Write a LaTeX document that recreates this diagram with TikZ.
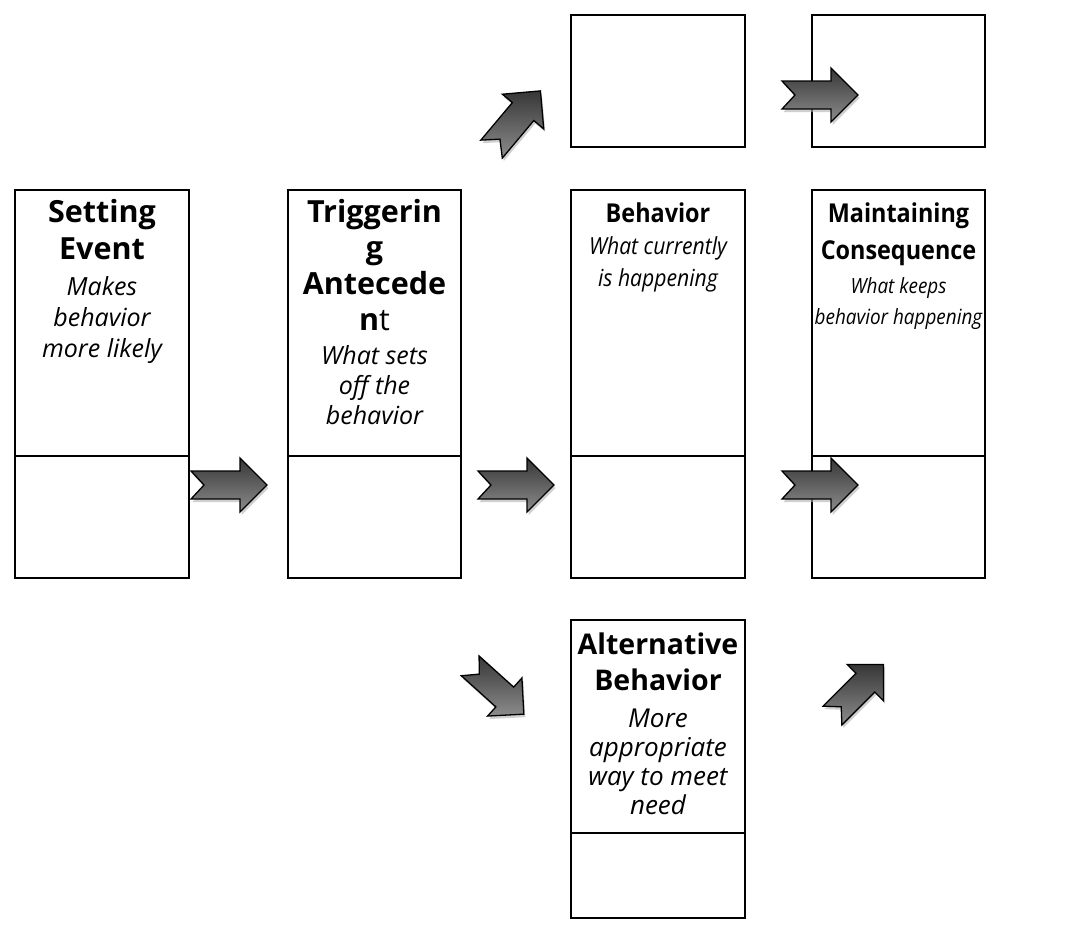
\documentclass[tikz,border=0pt]{standalone}
\usepackage{fontspec}
\setmainfont{Open Sans}
\newfontfamily\narrowfont{Open Sans}[FakeStretch=0.9]
\usetikzlibrary{shadows}
\tikzset{
  box/.style={draw=black, line width=2pt, inner sep=0, fill=white},
  txt/.style={align=center, anchor=north, inner sep=0},
  arrowfill/.style={draw=black, line width=1.3pt, line join=miter,
    top color={rgb,255:red,55;green,55;blue,55}, bottom color={rgb,255:red,140;green,140;blue,140},
    drop shadow={shadow xshift=1.5pt, shadow yshift=-3pt, fill=gray!60, opacity=0.6}},
  fatarrow/.pic={\path[arrowfill] (-38,14) -- (11,14) -- (11,27) -- (38,0) -- (11,-27) -- (11,-14) -- (-38,-14) -- (-25,0) -- cycle;}
}
\newcommand{\fl}[1]{\rule{0pt}{#1pt}}
\begin{document}
\begin{tikzpicture}[x=1pt,y=-1pt]
\useasboundingbox[fill=white] (0,0) rectangle (1086,930);
% main boxes
\node[box, minimum width=174pt, minimum height=388pt] (se) at (102,384) {};
\node[box, minimum width=173pt, minimum height=388pt] (ta) at (374.5,384) {};
\node[box, minimum width=174pt, minimum height=388pt] (bh) at (658,384) {};
\node[box, minimum width=173pt, minimum height=388pt] (mc) at (898.5,384) {};
\node[box, minimum width=174pt, minimum height=132pt] (t1) at (658,81) {};
\node[box, minimum width=173pt, minimum height=132pt] (t2) at (898.5,81) {};
\node[box, minimum width=174pt, minimum height=298pt] (ab) at (658,769) {};
% dividers
\foreach \b in {se,ta,bh,mc} \draw[line width=2pt] (\b.west |- {(0,456)}) -- (\b.east |- {(0,456)});
\draw[line width=2pt] (ab.west |- {(0,833)}) -- (ab.east |- {(0,833)});
% texts
\node[txt, font=\fontsize{30.5}{37}\selectfont\bfseries] (set) at (102,222-25) {\fl{25}Setting\\Event};
\node[txt, font=\fontsize{25}{31}\selectfont\itshape] (sed) at (102,295-21) {\fl{21}Makes\\behavior\\more likely};
\node[txt, font=\fontsize{30.5}{36}\selectfont\bfseries] (tat) at (374.5,222-25) {\fl{25}Triggerin\\g\\Antecede\\n{\mdseries t}};
\node[txt, font=\fontsize{25}{30}\selectfont\itshape] (tad) at (374.5,364-21) {\fl{21}What sets\\off the\\behavior};
\node[txt, font=\narrowfont\fontsize{26}{36}\selectfont\bfseries] (bht) at (658,222-21) {\fl{21}Behavior};
\node[txt, font=\narrowfont\fontsize{23.5}{32}\selectfont\itshape] (bhd) at (658,254-19) {\fl{19}What currently\\is happening};
\node[txt, font=\narrowfont\fontsize{26}{37}\selectfont\bfseries] (mct) at (898.5,222-21) {\fl{21}Maintaining\\Consequence};
\node[txt, font=\narrowfont\fontsize{21}{31}\selectfont\itshape] (mcd) at (898.5,293-17) {\fl{17}What keeps\\behavior happening};
\node[txt, font=\fontsize{28.5}{36}\selectfont\bfseries] (abt) at (658,654-24) {\fl{24}Alternative\\Behavior};
\node[txt, font=\fontsize{26}{29}\selectfont\itshape] (abd) at (658,727-22) {\fl{22}More\\appropriate\\way to meet\\need};
% arrows
\pic at (229,485) {fatarrow};
\pic at (516,485) {fatarrow};
\pic at (820,485) {fatarrow};
\pic at (820,95) {fatarrow};
\pic[rotate=50] at (516,120) {fatarrow};
\pic[rotate=-42,scale=0.95] at (497,690) {fatarrow};
\pic[rotate=45,scale=0.95] at (858,690) {fatarrow};
\end{tikzpicture}
\end{document}
